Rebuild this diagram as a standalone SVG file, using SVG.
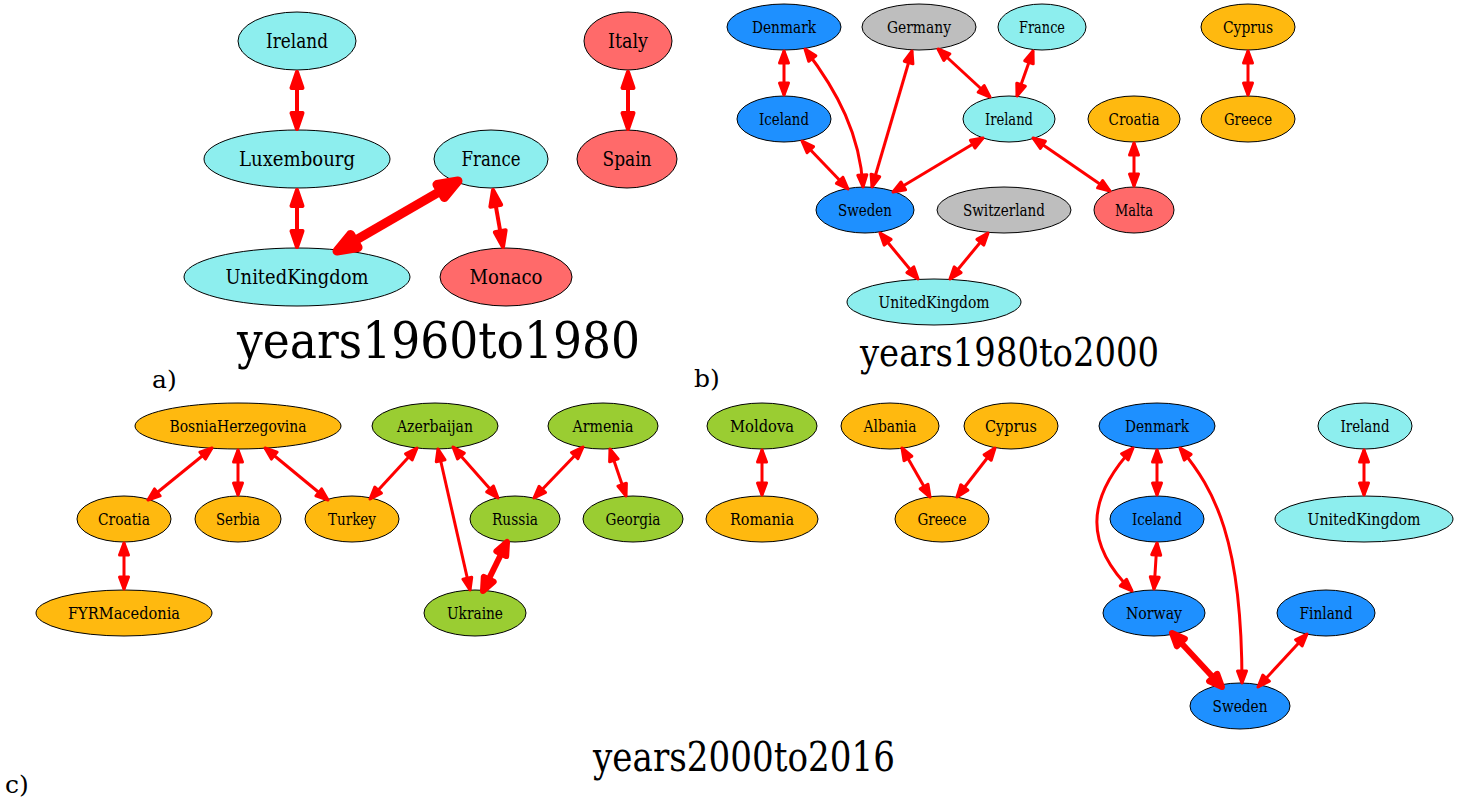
<svg xmlns="http://www.w3.org/2000/svg" width="1467" height="802" viewBox="0 0 1467 802">
<style>
.n ellipse{stroke:#000;stroke-width:1}
.n text{text-anchor:middle;fill:#000;font-family:"DejaVu Serif",serif}
.a text{font-size:21px}
.s text{font-size:16.5px}
.cy{fill:#8DEEEE}.rd{fill:#FF6A6A}.bl{fill:#1E90FF}.gr{fill:#BEBEBE}.or{fill:#FFB90F}.gn{fill:#9ACD32}
.e path{fill:none;stroke:#FF0000}
.ea{stroke-width:4;marker-start:url(#saS);marker-end:url(#saE)}
.eat{stroke-width:9;marker-start:url(#stS);marker-end:url(#stE)}
.eb{stroke-width:3;marker-start:url(#sbS);marker-end:url(#sbE)}
.ebt{stroke-width:6;marker-start:url(#scS);marker-end:url(#scE)}
.t{fill:#000;font-family:"DejaVu Serif",serif}
</style>
<defs>
<marker id="saE" markerUnits="userSpaceOnUse" orient="auto" refX="0" refY="0" markerWidth="1" markerHeight="1" overflow="visible"><polygon points="0,0 -16,-5.5 -16,5.5" fill="#FF0000" stroke="#FF0000" stroke-width="4" stroke-linejoin="round"/></marker>
<marker id="saS" markerUnits="userSpaceOnUse" orient="auto" refX="0" refY="0" markerWidth="1" markerHeight="1" overflow="visible"><polygon points="0,0 16,-5.5 16,5.5" fill="#FF0000" stroke="#FF0000" stroke-width="4" stroke-linejoin="round"/></marker>
<marker id="stE" markerUnits="userSpaceOnUse" orient="auto" refX="0" refY="0" markerWidth="1" markerHeight="1" overflow="visible"><polygon points="0,0 -20,-7.5 -20,7.5" fill="#FF0000" stroke="#FF0000" stroke-width="9" stroke-linejoin="round"/></marker>
<marker id="stS" markerUnits="userSpaceOnUse" orient="auto" refX="0" refY="0" markerWidth="1" markerHeight="1" overflow="visible"><polygon points="0,0 20,-7.5 20,7.5" fill="#FF0000" stroke="#FF0000" stroke-width="9" stroke-linejoin="round"/></marker>
<marker id="sbE" markerUnits="userSpaceOnUse" orient="auto" refX="0" refY="0" markerWidth="1" markerHeight="1" overflow="visible"><polygon points="0,0 -12,-4.5 -12,4.5" fill="#FF0000" stroke="#FF0000" stroke-width="3" stroke-linejoin="round"/></marker>
<marker id="sbS" markerUnits="userSpaceOnUse" orient="auto" refX="0" refY="0" markerWidth="1" markerHeight="1" overflow="visible"><polygon points="0,0 12,-4.5 12,4.5" fill="#FF0000" stroke="#FF0000" stroke-width="3" stroke-linejoin="round"/></marker>
<marker id="scE" markerUnits="userSpaceOnUse" orient="auto" refX="0" refY="0" markerWidth="1" markerHeight="1" overflow="visible"><polygon points="0,0 -13,-5.5 -13,5.5" fill="#FF0000" stroke="#FF0000" stroke-width="6" stroke-linejoin="round"/></marker>
<marker id="scS" markerUnits="userSpaceOnUse" orient="auto" refX="0" refY="0" markerWidth="1" markerHeight="1" overflow="visible"><polygon points="0,0 13,-5.5 13,5.5" fill="#FF0000" stroke="#FF0000" stroke-width="6" stroke-linejoin="round"/></marker>
</defs>
<rect width="1467" height="802" fill="#FFFFFF"/>

<!-- Panel a -->
<g id="a-nodes" class="n a">
<g id="a-Ireland"><ellipse class="cy" cx="297" cy="41" rx="59" ry="29"/><text x="297" y="48" textLength="62" lengthAdjust="spacingAndGlyphs">Ireland</text></g>
<g id="a-Italy"><ellipse class="rd" cx="628" cy="41" rx="44" ry="29"/><text x="628" y="48" textLength="40" lengthAdjust="spacingAndGlyphs">Italy</text></g>
<g id="a-Luxembourg"><ellipse class="cy" cx="297" cy="159" rx="93" ry="29"/><text x="297" y="166" textLength="116" lengthAdjust="spacingAndGlyphs">Luxembourg</text></g>
<g id="a-France"><ellipse class="cy" cx="491" cy="159" rx="57" ry="29"/><text x="491" y="166" textLength="59" lengthAdjust="spacingAndGlyphs">France</text></g>
<g id="a-Spain"><ellipse class="rd" cx="627" cy="159" rx="50" ry="29"/><text x="627" y="166" textLength="49" lengthAdjust="spacingAndGlyphs">Spain</text></g>
<g id="a-UnitedKingdom"><ellipse class="cy" cx="297" cy="277" rx="113" ry="29"/><text x="297" y="284" textLength="143" lengthAdjust="spacingAndGlyphs">UnitedKingdom</text></g>
<g id="a-Monaco"><ellipse class="rd" cx="506" cy="277" rx="66" ry="29"/><text x="506" y="284" textLength="73" lengthAdjust="spacingAndGlyphs">Monaco</text></g>
</g>
<g id="a-edges" class="e">
<path class="ea" d="M297,72 L297,129"/>
<path class="ea" d="M297,190 L297,247"/>
<path class="eat" d="M458,181 L337,251"/>
<path class="ea" d="M493,190 L503,247"/>
<path class="ea" d="M628,72 L628,129"/>
</g>
<text class="t" x="237" y="358" font-size="51" textLength="403" lengthAdjust="spacingAndGlyphs">years1960to1980</text>
<text class="t" x="152" y="388" font-size="25">a)</text>

<!-- Panel b -->
<g id="b-nodes" class="n s">
<g id="b-Denmark"><ellipse class="bl" cx="784" cy="27" rx="57" ry="23"/><text x="784" y="33" textLength="64" lengthAdjust="spacingAndGlyphs">Denmark</text></g>
<g id="b-Germany"><ellipse class="gr" cx="919" cy="27" rx="57" ry="23"/><text x="919" y="33" textLength="64" lengthAdjust="spacingAndGlyphs">Germany</text></g>
<g id="b-France"><ellipse class="cy" cx="1042" cy="27" rx="44" ry="23"/><text x="1042" y="33" textLength="46" lengthAdjust="spacingAndGlyphs">France</text></g>
<g id="b-Cyprus"><ellipse class="or" cx="1248" cy="27" rx="47" ry="23"/><text x="1248" y="33" textLength="50" lengthAdjust="spacingAndGlyphs">Cyprus</text></g>
<g id="b-Iceland"><ellipse class="bl" cx="784" cy="119" rx="47" ry="23"/><text x="784" y="125" textLength="50" lengthAdjust="spacingAndGlyphs">Iceland</text></g>
<g id="b-Ireland"><ellipse class="cy" cx="1009" cy="119" rx="46" ry="23"/><text x="1009" y="125" textLength="48" lengthAdjust="spacingAndGlyphs">Ireland</text></g>
<g id="b-Croatia"><ellipse class="or" cx="1134" cy="119" rx="46" ry="23"/><text x="1134" y="125" textLength="51" lengthAdjust="spacingAndGlyphs">Croatia</text></g>
<g id="b-Greece"><ellipse class="or" cx="1248" cy="119" rx="47" ry="23"/><text x="1248" y="125" textLength="48" lengthAdjust="spacingAndGlyphs">Greece</text></g>
<g id="b-Sweden"><ellipse class="bl" cx="865" cy="210" rx="49" ry="23"/><text x="865" y="216" textLength="54" lengthAdjust="spacingAndGlyphs">Sweden</text></g>
<g id="b-Switzerland"><ellipse class="gr" cx="1004" cy="210" rx="67" ry="23"/><text x="1004" y="216" textLength="82" lengthAdjust="spacingAndGlyphs">Switzerland</text></g>
<g id="b-Malta"><ellipse class="rd" cx="1134" cy="210" rx="40" ry="23"/><text x="1134" y="216" textLength="38" lengthAdjust="spacingAndGlyphs">Malta</text></g>
<g id="b-UnitedKingdom"><ellipse class="cy" cx="934" cy="302" rx="87" ry="23"/><text x="934" y="308" textLength="111" lengthAdjust="spacingAndGlyphs">UnitedKingdom</text></g>
</g>
<g id="b-edges" class="e">
<path class="eb" d="M784,51 L784,95"/>
<path class="eb" d="M805,49 C838,92 860,135 863,187"/>
<path class="eb" d="M912,51 L872,187"/>
<path class="eb" d="M938,49 L990,97"/>
<path class="eb" d="M1033,51 L1017,96"/>
<path class="eb" d="M802,141 L848,189"/>
<path class="eb" d="M983,138 L893,192"/>
<path class="eb" d="M1033,138 L1110,191"/>
<path class="eb" d="M1134,143 L1134,186"/>
<path class="eb" d="M1248,51 L1248,95"/>
<path class="eb" d="M880,233 L918,279"/>
<path class="eb" d="M988,233 L950,279"/>
</g>
<text class="t" x="860" y="366" font-size="40" textLength="299" lengthAdjust="spacingAndGlyphs">years1980to2000</text>
<text class="t" x="694" y="387" font-size="25">b)</text>

<!-- Panel c -->
<g id="c-nodes" class="n s">
<g id="c-BosniaHerzegovina"><ellipse class="or" cx="238" cy="426" rx="103" ry="23"/><text x="238" y="432" textLength="137" lengthAdjust="spacingAndGlyphs">BosniaHerzegovina</text></g>
<g id="c-Azerbaijan"><ellipse class="gn" cx="435" cy="426" rx="63" ry="23"/><text x="435" y="432" textLength="76" lengthAdjust="spacingAndGlyphs">Azerbaijan</text></g>
<g id="c-Armenia"><ellipse class="gn" cx="603" cy="426" rx="55" ry="23"/><text x="603" y="432" textLength="61" lengthAdjust="spacingAndGlyphs">Armenia</text></g>
<g id="c-Moldova"><ellipse class="gn" cx="762" cy="426" rx="55" ry="23"/><text x="762" y="432" textLength="64" lengthAdjust="spacingAndGlyphs">Moldova</text></g>
<g id="c-Albania"><ellipse class="or" cx="890" cy="426" rx="49" ry="23"/><text x="890" y="432" textLength="53" lengthAdjust="spacingAndGlyphs">Albania</text></g>
<g id="c-Cyprus"><ellipse class="or" cx="1011" cy="426" rx="47" ry="23"/><text x="1011" y="432" textLength="52" lengthAdjust="spacingAndGlyphs">Cyprus</text></g>
<g id="c-Denmark"><ellipse class="bl" cx="1157" cy="426" rx="58" ry="23"/><text x="1157" y="432" textLength="64" lengthAdjust="spacingAndGlyphs">Denmark</text></g>
<g id="c-Ireland"><ellipse class="cy" cx="1365" cy="426" rx="47" ry="23"/><text x="1365" y="432" textLength="49" lengthAdjust="spacingAndGlyphs">Ireland</text></g>
<g id="c-Croatia"><ellipse class="or" cx="124" cy="519" rx="47" ry="23"/><text x="124" y="525" textLength="52" lengthAdjust="spacingAndGlyphs">Croatia</text></g>
<g id="c-Serbia"><ellipse class="or" cx="238" cy="519" rx="43" ry="23"/><text x="238" y="525" textLength="44" lengthAdjust="spacingAndGlyphs">Serbia</text></g>
<g id="c-Turkey"><ellipse class="or" cx="352" cy="519" rx="47" ry="23"/><text x="352" y="525" textLength="48" lengthAdjust="spacingAndGlyphs">Turkey</text></g>
<g id="c-Russia"><ellipse class="gn" cx="515" cy="519" rx="45" ry="23"/><text x="515" y="525" textLength="46" lengthAdjust="spacingAndGlyphs">Russia</text></g>
<g id="c-Georgia"><ellipse class="gn" cx="633" cy="519" rx="50" ry="23"/><text x="633" y="525" textLength="55" lengthAdjust="spacingAndGlyphs">Georgia</text></g>
<g id="c-Romania"><ellipse class="or" cx="762" cy="519" rx="56" ry="23"/><text x="762" y="525" textLength="64" lengthAdjust="spacingAndGlyphs">Romania</text></g>
<g id="c-Greece"><ellipse class="or" cx="942" cy="519" rx="47" ry="23"/><text x="942" y="525" textLength="49" lengthAdjust="spacingAndGlyphs">Greece</text></g>
<g id="c-Iceland"><ellipse class="bl" cx="1157" cy="519" rx="47" ry="23"/><text x="1157" y="525" textLength="50" lengthAdjust="spacingAndGlyphs">Iceland</text></g>
<g id="c-UnitedKingdom"><ellipse class="cy" cx="1364" cy="519" rx="89" ry="23"/><text x="1364" y="525" textLength="113" lengthAdjust="spacingAndGlyphs">UnitedKingdom</text></g>
<g id="c-FYRMacedonia"><ellipse class="or" cx="124" cy="613" rx="88" ry="23"/><text x="124" y="619" textLength="112" lengthAdjust="spacingAndGlyphs">FYRMacedonia</text></g>
<g id="c-Ukraine"><ellipse class="gn" cx="475" cy="613" rx="51" ry="23"/><text x="475" y="619" textLength="56" lengthAdjust="spacingAndGlyphs">Ukraine</text></g>
<g id="c-Norway"><ellipse class="bl" cx="1154" cy="613" rx="51" ry="23"/><text x="1154" y="619" textLength="56" lengthAdjust="spacingAndGlyphs">Norway</text></g>
<g id="c-Finland"><ellipse class="bl" cx="1326" cy="613" rx="49" ry="23"/><text x="1326" y="619" textLength="53" lengthAdjust="spacingAndGlyphs">Finland</text></g>
<g id="c-Sweden"><ellipse class="bl" cx="1240" cy="706" rx="50" ry="23"/><text x="1240" y="712" textLength="55" lengthAdjust="spacingAndGlyphs">Sweden</text></g>
</g>
<g id="c-edges" class="e">
<path class="eb" d="M212,448 L148,500"/>
<path class="eb" d="M238,450 L238,495"/>
<path class="eb" d="M265,448 L328,500"/>
<path class="eb" d="M417,448 L370,499"/>
<path class="eb" d="M438,449 L470,590"/>
<path class="eb" d="M453,447 L498,498"/>
<path class="eb" d="M583,447 L534,498"/>
<path class="eb" d="M610,449 L626,496"/>
<path class="ebt" d="M507,542 L483,591"/>
<path class="eb" d="M124,543 L124,589"/>
<path class="eb" d="M762,450 L762,495"/>
<path class="eb" d="M902,448 L930,497"/>
<path class="eb" d="M995,448 L957,497"/>
<path class="eb" d="M1157,450 L1157,495"/>
<path class="eb" d="M1133,448 C1085,500 1085,545 1132,591"/>
<path class="eb" d="M1180,448 C1215,490 1242,540 1242,683"/>
<path class="eb" d="M1157,543 L1154,589"/>
<path class="ebt" d="M1172,633 L1222,687"/>
<path class="eb" d="M1307,634 L1258,687"/>
<path class="eb" d="M1364,450 L1364,495"/>
</g>
<text class="t" x="593" y="771" font-size="41" textLength="302" lengthAdjust="spacingAndGlyphs">years2000to2016</text>
<text class="t" x="5" y="793" font-size="25">c)</text>
</svg>
